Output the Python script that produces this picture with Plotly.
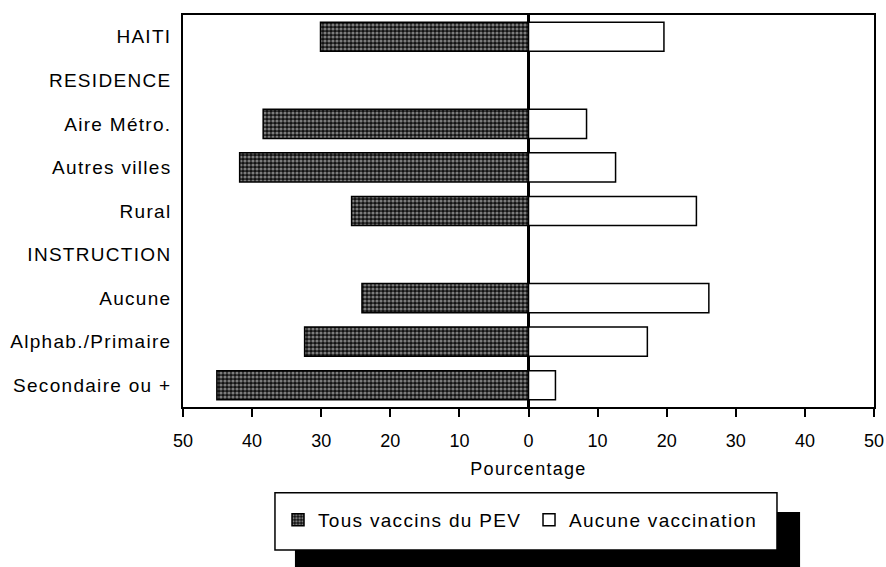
import plotly.graph_objects as go

# categories, top to bottom
categories = ["HAITI", "RESIDENCE", "Aire Métro.", "Autres villes", "Rural",
              "INSTRUCTION", "Aucune", "Alphab./Primaire", "Secondaire ou +"]

# percentages (None = header rows)
tous_vaccins = [30.1, None, 38.4, 41.8, 25.6, None, 24.1, 32.4, 45.1]
aucune_vaccination = [19.6, None, 8.4, 12.6, 24.3, None, 26.1, 17.2, 3.9]

series_names = ["Tous vaccins du PEV", "Aucune vaccination"]

tick_values = [-50, -40, -30, -20, -10, 0, 10, 20, 30, 40, 50]
tick_labels = ["50", "40", "30", "20", "10", "0", "10", "20", "30", "40", "50"]

font_family = "Liberation Sans, Arial, sans-serif"


def wide(text):
    # the scanned original uses a slightly wider Helvetica
    return '<span style="letter-spacing:1.3px">' + text + '</span>'


fig = go.Figure()
fig.add_trace(go.Bar(
    y=categories,
    x=[-v if v is not None else None for v in tous_vaccins],
    orientation='h',
    name=wide(series_names[0]),
    width=0.67,
    marker=dict(
        color='#222222',
        line=dict(color='black', width=1.5),
        pattern=dict(shape='.', fgcolor='#e8e8e8', bgcolor='#111111', size=4, solidity=0.5),
    ),
))
fig.add_trace(go.Bar(
    y=categories,
    x=aucune_vaccination,
    orientation='h',
    name=wide(series_names[1]),
    width=0.67,
    marker=dict(color='white', line=dict(color='black', width=1.5)),
))

# legend frame and its black drop shadow
fig.add_shape(type='rect', xref='paper', yref='paper',
              x0=0.162, x1=0.893, y0=-0.42, y1=-0.268,
              fillcolor='black', line=dict(width=0), layer='above')
fig.add_shape(type='rect', xref='paper', yref='paper',
              x0=0.1331, x1=0.8596, y0=-0.365, y1=-0.219,
              fillcolor='white', line=dict(color='black', width=1.5), layer='above')

fig.update_layout(
    width=886,
    height=567,
    margin=dict(l=183, r=12, t=15, b=160),
    barmode='overlay',
    plot_bgcolor='white',
    paper_bgcolor='white',
    font=dict(family=font_family, size=18, color='black'),
    showlegend=True,
    legend=dict(
        orientation='h',
        x=0.1375, xanchor='left',
        y=-0.288, yanchor='middle',
        bgcolor='rgba(0,0,0,0)',
        font=dict(size=19),
        entrywidth=206,
        traceorder='normal',
    ),
    xaxis=dict(
        range=[-50, 50],
        tickvals=tick_values,
        ticktext=tick_labels,
        ticks='outside',
        ticklen=8,
        tickwidth=1.5,
        tickcolor='black',
        ticklabelstandoff=9,
        showgrid=False,
        showline=True,
        linecolor='black',
        linewidth=1.5,
        mirror=True,
        zeroline=True,
        zerolinecolor='black',
        zerolinewidth=2.5,
        automargin=False,
        title=dict(text=wide('Pourcentage'), standoff=12, font=dict(size=18)),
    ),
    yaxis=dict(
        categoryorder='array',
        categoryarray=categories,
        tickvals=categories,
        ticktext=[wide(c) for c in categories],
        autorange='reversed',
        showgrid=False,
        showline=True,
        linecolor='black',
        linewidth=1.5,
        mirror=True,
        ticks='',
        ticklabelstandoff=6,
        automargin=False,
        tickfont=dict(size=19),
    ),
)

# drop the browser's default page margin so the figure sits at the top-left corner
fig.write_html("out.html", config={'displayModeBar': False},
               post_script="document.body.style.margin = '0';")
